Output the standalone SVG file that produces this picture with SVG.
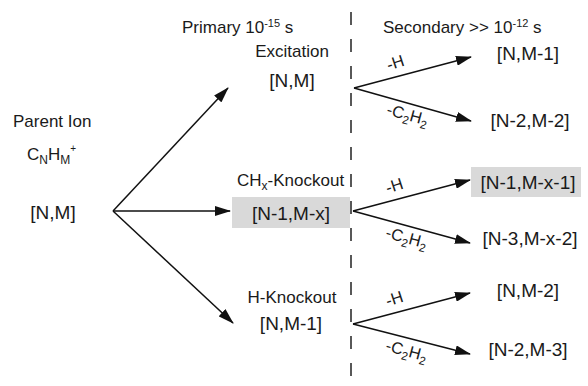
<svg xmlns="http://www.w3.org/2000/svg" width="588" height="386" viewBox="0 0 588 386">
<defs>
<style>
text{font-family:"Liberation Sans",Arial,sans-serif;fill:#1a1a1a}
.lb{font-size:17px}
.br{font-size:19px}
.sm{font-size:16.5px}
.ln{stroke:#111;stroke-width:1.5;fill:none}
.box{fill:#d9d9d9}
</style>
<marker id="ah" viewBox="0 0 16 10" refX="15" refY="5" markerWidth="16" markerHeight="10" markerUnits="userSpaceOnUse" orient="auto">
<path d="M0,0 L16,5 L0,10 z" fill="#111"/>
</marker>
</defs>
<line x1="351" y1="12" x2="351" y2="386" stroke="#222" stroke-width="1.5" stroke-dasharray="13 14"/>
<g id="headers">
<text class="lb" x="182" y="33">Primary 10<tspan font-size="11" dy="-6">-15</tspan><tspan dy="6"> s</tspan></text>
<text class="lb" x="383" y="33">Secondary &gt;&gt; 10<tspan font-size="11" dy="-6">-12</tspan><tspan dy="6"> s</tspan></text>
</g>
<g id="parent">
<text class="lb" x="13" y="127">Parent Ion</text>
<text class="lb" x="27" y="160">C<tspan font-size="12" dy="4">N</tspan><tspan dy="-4">H</tspan><tspan font-size="12" dy="4">M</tspan><tspan font-size="10" dy="-12">+</tspan></text>
<text class="br" x="53" y="219" text-anchor="middle">[N,M]</text>
</g>
<g id="excitation">
<text class="lb" x="292" y="57" text-anchor="middle">Excitation</text>
<text class="br" x="292" y="87" text-anchor="middle">[N,M]</text>
</g>
<g id="chx-knockout">
<text class="lb" x="237" y="186">CH<tspan font-size="12" dy="4">x</tspan><tspan dy="-4">-Knockout</tspan></text>
<rect class="box" x="232" y="197" width="118" height="31"/>
<text class="br" x="291" y="220" text-anchor="middle">[N-1,M-x]</text>
</g>
<g id="h-knockout">
<text class="lb" x="292" y="303" text-anchor="middle">H-Knockout</text>
<text class="br" x="291" y="330" text-anchor="middle">[N,M-1]</text>
</g>
<g id="sec1a"><text class="br" x="528" y="60" text-anchor="middle">[N,M-1]</text></g>
<g id="sec1b"><text class="br" x="530" y="127" text-anchor="middle">[N-2,M-2]</text></g>
<g id="sec2a">
<rect class="box" x="471" y="167" width="110" height="30"/>
<text class="br" x="528" y="189" text-anchor="middle">[N-1,M-x-1]</text>
</g>
<g id="sec2b"><text class="br" x="530" y="245" text-anchor="middle">[N-3,M-x-2]</text></g>
<g id="sec3a"><text class="br" x="528" y="297" text-anchor="middle">[N,M-2]</text></g>
<g id="sec3b"><text class="br" x="528" y="356" text-anchor="middle">[N-2,M-3]</text></g>
<g id="connectors">
<line class="ln" x1="113" y1="211" x2="228" y2="88" marker-end="url(#ah)"/>
<line class="ln" x1="113" y1="211" x2="230" y2="211" marker-end="url(#ah)"/>
<line class="ln" x1="113" y1="211" x2="233" y2="323" marker-end="url(#ah)"/>
<g transform="translate(354,88)">
<line class="ln" x1="0" y1="0" x2="117" y2="-31" marker-end="url(#ah)"/>
<line class="ln" x1="0" y1="0" x2="117" y2="33" marker-end="url(#ah)"/>
<text class="sm" transform="translate(43,-20) rotate(-18)" text-anchor="middle">-H</text>
<text class="sm" transform="translate(52,32) rotate(15)" text-anchor="middle">-C<tspan font-size="11.5" dy="4">2</tspan><tspan dy="-4">H</tspan><tspan font-size="11.5" dy="4">2</tspan></text>
</g>
<g transform="translate(353,211)">
<line class="ln" x1="0" y1="0" x2="117" y2="-31" marker-end="url(#ah)"/>
<line class="ln" x1="0" y1="0" x2="117" y2="32" marker-end="url(#ah)"/>
<text class="sm" transform="translate(43,-20) rotate(-18)" text-anchor="middle">-H</text>
<text class="sm" transform="translate(52,32) rotate(15)" text-anchor="middle">-C<tspan font-size="11.5" dy="4">2</tspan><tspan dy="-4">H</tspan><tspan font-size="11.5" dy="4">2</tspan></text>
</g>
<g transform="translate(353,324)">
<line class="ln" x1="0" y1="0" x2="117" y2="-31" marker-end="url(#ah)"/>
<line class="ln" x1="0" y1="0" x2="117" y2="30" marker-end="url(#ah)"/>
<text class="sm" transform="translate(43,-20) rotate(-18)" text-anchor="middle">-H</text>
<text class="sm" transform="translate(52,32) rotate(15)" text-anchor="middle">-C<tspan font-size="11.5" dy="4">2</tspan><tspan dy="-4">H</tspan><tspan font-size="11.5" dy="4">2</tspan></text>
</g>
</g>
</svg>
